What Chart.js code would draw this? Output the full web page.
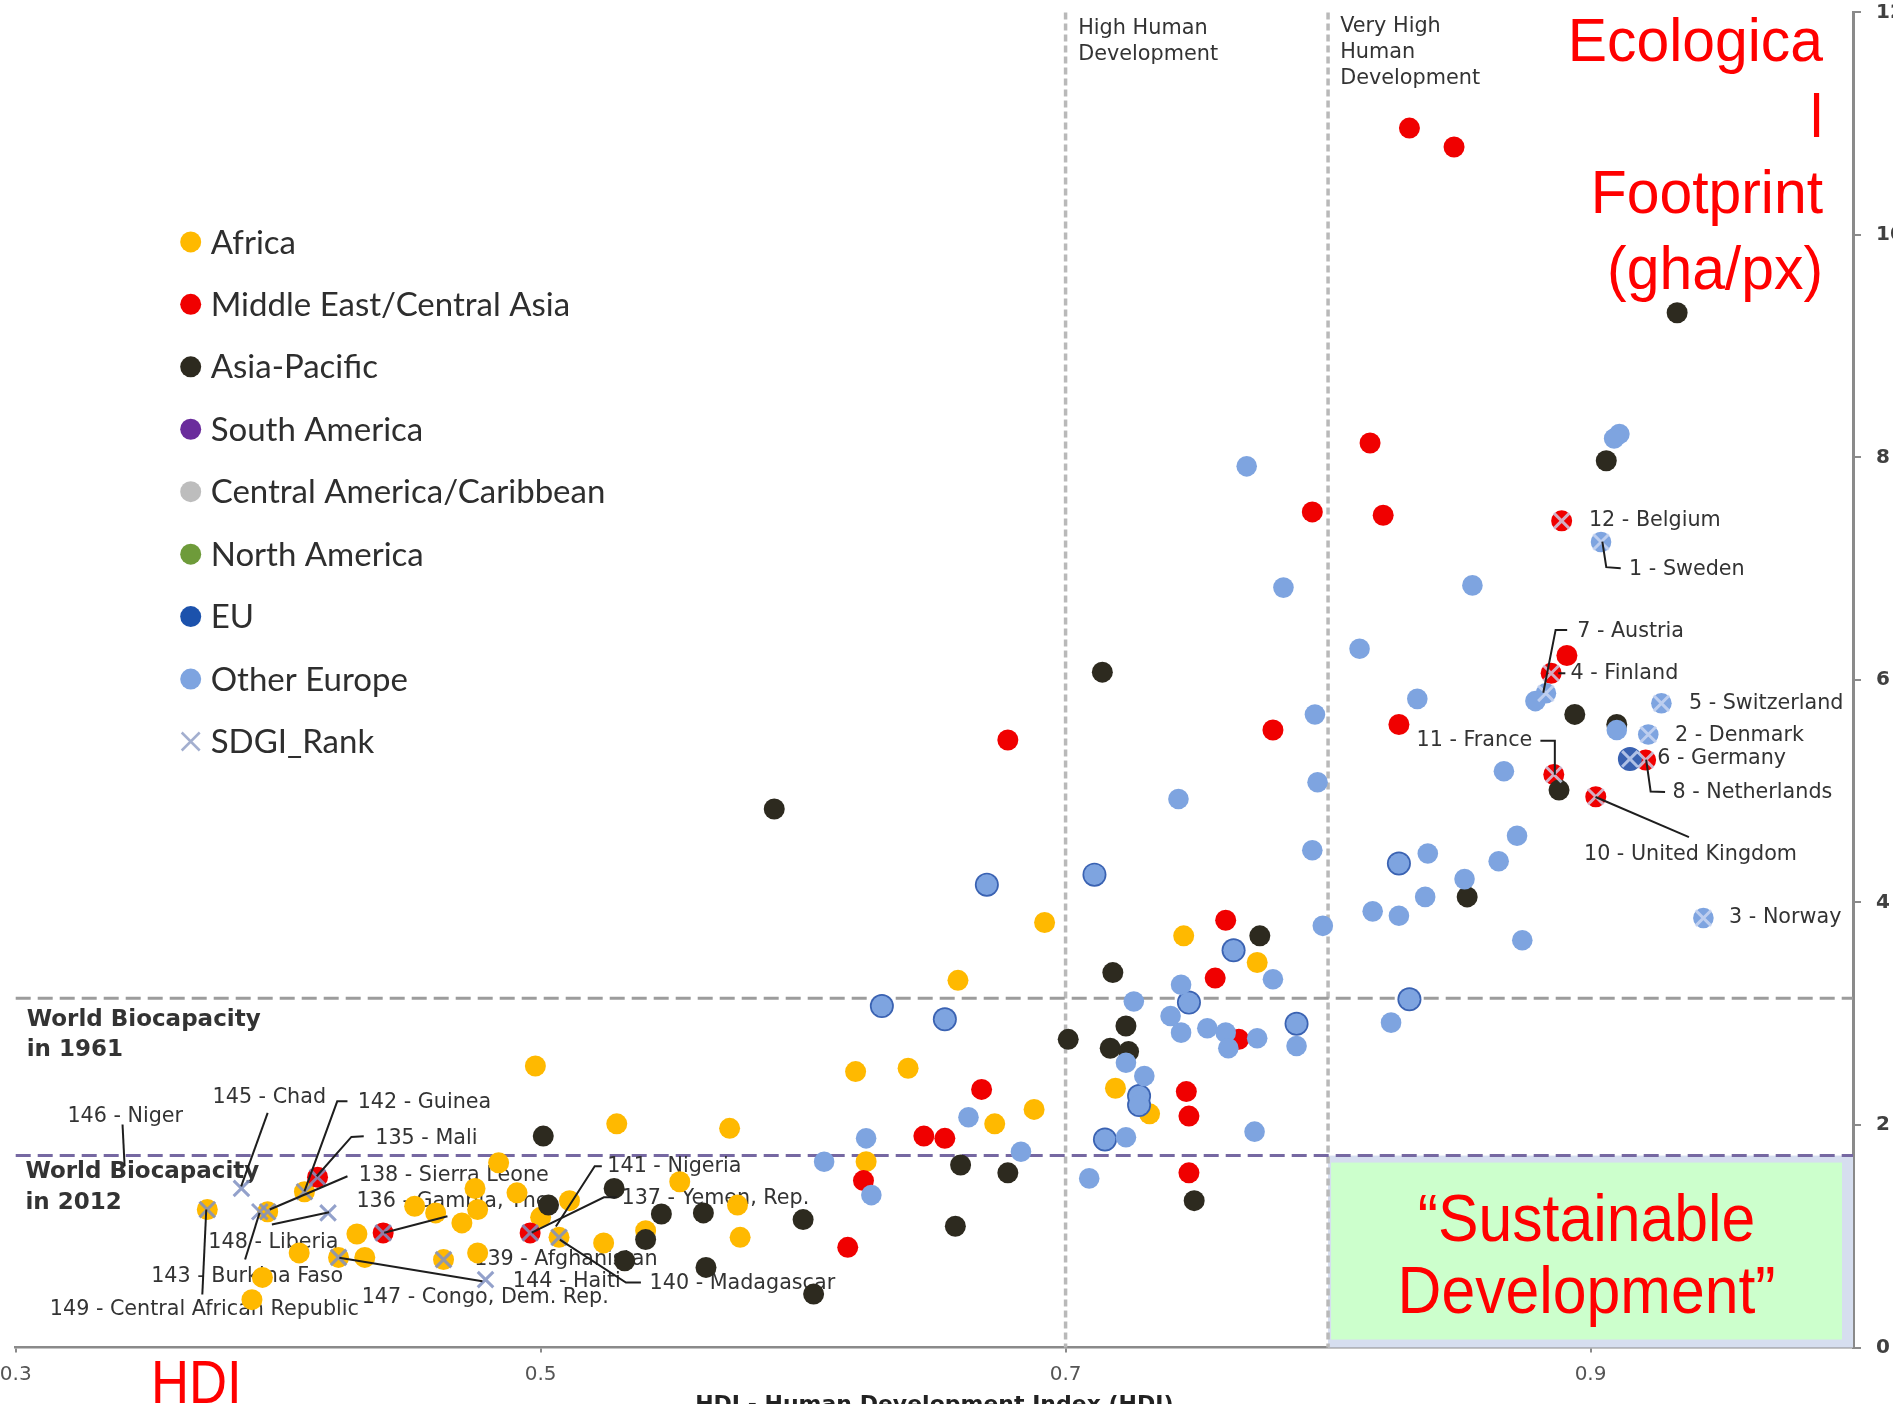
<!DOCTYPE html>
<html><head><meta charset="utf-8">
<script src="https://cdn.jsdelivr.net/npm/chart.js@4.4.1/dist/chart.umd.min.js"></script>
<style>
html,body{margin:0;padding:0;background:#fff;overflow:hidden;width:1893px;height:1404px;}
#wrap{position:absolute;left:0;top:0;width:1904px;height:1420px;}
canvas{display:block;}
</style></head><body>
<div id="wrap"><canvas id="c" width="1904" height="1420"></canvas></div>
<script>
// ---------------- DATA ----------------
const categories = ['Africa','Middle East/Central Asia','Asia-Pacific','South America','Central America/Caribbean','North America','EU','Other Europe','SDGI_Rank'];

const africaHDI = [0.659,0.745,0.773,0.692,0.620,0.640,0.498,0.529,0.572,0.688,0.673,0.719,0.732,0.624,0.484,0.475,0.491,0.452,0.460,0.476,0.470,0.500,0.511,0.430,0.433,0.408,0.394,0.390,0.476,0.524,0.540,0.553,0.575,0.576,0.373,0.396,0.410,0.423,0.463,0.507];
const africaEF  = [3.30,3.70,3.46,3.82,2.48,2.51,2.53,2.01,1.97,2.14,2.01,2.33,2.10,1.67,1.66,1.43,1.39,1.27,1.21,1.24,1.12,1.17,1.32,1.02,0.81,0.85,0.63,0.43,0.85,0.94,1.05,1.49,1.28,0.99,1.24,1.22,1.40,0.81,0.79,0.99];

const meHDI = [0.831,0.848,0.816,0.794,0.821,0.891,0.827,0.779,0.678,0.761,0.757,0.766,0.746,0.747,0.747,0.668,0.646,0.654,0.623,0.617,0.889,0.885,0.921,0.886,0.902,0.415,0.440,0.496];
const meEF  = [10.96,10.79,8.13,7.51,7.48,6.22,5.60,5.55,5.46,3.84,3.32,2.77,2.30,2.08,1.57,2.32,1.90,1.88,1.50,0.90,7.43,6.06,5.28,5.15,4.95,1.53,1.03,1.03];

const apHDI = [0.933,0.906,0.714,0.589,0.894,0.910,0.888,0.853,0.774,0.718,0.723,0.701,0.717,0.724,0.749,0.660,0.678,0.658,0.600,0.604,0.563,0.562,0.546,0.528,0.540,0.532,0.501,0.503];
const apEF  = [9.30,7.97,6.07,4.84,5.69,5.60,5.01,4.05,3.70,3.37,2.89,2.77,2.69,2.66,1.32,1.64,1.57,1.09,1.15,0.48,0.72,1.21,1.20,1.43,0.97,0.78,1.90,1.28];

const saHDI = [], saEF = [];
const caHDI = [], caEF = [];
const naHDI = [], naEF = [];

const euHDI = [0.915,0.670,0.711,0.630,0.654,0.764,0.747,0.788,0.728,0.728,0.715,0.827,0.831];
const euEF  = [5.29,4.16,4.25,3.07,2.95,3.57,3.10,2.91,2.26,2.18,1.87,4.35,3.13];

const oeHDI = [0.911,0.909,0.904,0.855,0.883,0.879,0.834,0.927,0.910,0.922,0.867,0.872,0.838,0.827,0.865,0.852,0.837,0.827,0.817,0.943,0.874,0.831,0.824,0.769,0.783,0.812,0.795,0.796,0.743,0.794,0.670,0.711,0.798,0.764,0.779,0.744,0.726,0.747,0.740,0.744,0.754,0.761,0.773,0.762,0.788,0.788,0.723,0.730,0.728,0.728,0.772,0.715,0.723,0.709,0.630,0.654,0.663,0.624,0.683,0.608,0.626];
const oeEF  = [8.21,8.17,7.24,6.85,5.88,5.81,5.83,5.79,5.55,5.51,5.18,4.60,4.44,4.35,4.37,4.21,4.05,3.88,3.92,3.86,3.66,3.13,2.92,7.92,6.83,6.28,5.69,5.08,4.93,4.47,4.16,4.25,3.79,3.57,3.31,3.26,3.11,3.10,2.98,2.83,2.87,2.83,2.78,2.69,2.91,2.71,2.56,2.44,2.26,2.18,1.94,1.87,1.89,1.52,3.07,2.95,2.07,1.88,1.76,1.67,1.37];

const sdgiNames = ['1 - Sweden','2 - Denmark','3 - Norway','4 - Finland','5 - Switzerland','6 - Germany','7 - Austria','8 - Netherlands','10 - United Kingdom','11 - France','12 - Belgium','135 - Mali','136 - Gambia, The','137 - Yemen, Rep.','138 - Sierra Leone','139 - Afghanistan','140 - Madagascar','142 - Guinea','143 - Burkina Faso','144 - Haiti','145 - Chad','147 - Congo, Dem. Rep.','148 - Liberia','149 - Central African Republic'];
const sdgiHDI = [0.904,0.922,0.943,0.885,0.927,0.915,0.883,0.921,0.902,0.886,0.889,0.415,0.440,0.496,0.396,0.463,0.507,0.410,0.393,0.479,0.386,0.423,0.419,0.373];
const sdgiEF  = [7.24,5.51,3.86,6.06,5.79,5.29,5.88,5.28,4.95,5.15,7.43,1.53,1.03,1.03,1.22,0.79,0.99,1.40,1.22,0.61,1.43,0.81,1.21,1.24];

const xTicks = [0.3,0.5,0.7,0.9];
const xTickLabels = ['0.3','0.5','0.7','0.9'];
const yTicks = [0,2,4,6,8,10,12];
const yTickLabels = ['0','2','4','6','8','10','12'];

const biocap1961 = 3.14;
const biocap2012 = 1.725;
const hdiBands = [0.7, 0.8];

// ---------------- STYLE / LAYOUT ----------------
const colors = ['#FFB900','#F00000','#2D2A1F','#6A2C9C','#BDBDBD','#6E9B3A','#3A62B2','#7EA4E0','#8E9DC6'];

// annotation layout (data coordinates)
const rankLabels = [
 {t:'12 - Belgium', x:0.8994, y:7.430},
 {t:'1 - Sweden', x:0.9147, y:6.990, lead:[[0.9045,7.244],[0.9060,7.014],[0.9115,7.005]]},
 {t:'7 - Austria', x:0.8949, y:6.430, lead:[[0.8911,6.450],[0.8867,6.450],[0.8820,5.885]]},
 {t:'4 - Finland', x:0.8924, y:6.060, lead:[[0.8877,6.060],[0.8904,6.060]]},
 {t:'5 - Switzerland', x:0.9375, y:5.786},
 {t:'2 - Denmark', x:0.9322, y:5.499},
 {t:'6 - Germany', x:0.9254, y:5.289},
 {t:'8 - Netherlands', x:0.9312, y:4.989, lead:[[0.9212,5.283],[0.9229,4.998],[0.9284,4.993]]},
 {t:'11 - France', x:0.8778, y:5.454, align:'right', lead:[[0.8809,5.454],[0.8864,5.454],[0.8864,5.148]]},
 {t:'10 - United Kingdom', x:0.8975, y:4.429, lead:[[0.9019,4.948],[0.9375,4.588]]},
 {t:'3 - Norway', x:0.9528, y:3.861},
 {t:'146 - Niger', x:0.3197, y:2.078, lead:[[0.3407,2.004],[0.3415,1.629]]},
 {t:'145 - Chad', x:0.3750, y:2.249, lead:[[0.3960,2.109],[0.3859,1.449]]},
 {t:'142 - Guinea', x:0.4303, y:2.199, lead:[[0.4264,2.213],[0.4225,2.213],[0.4100,1.404]]},
 {t:'135 - Mali', x:0.4370, y:1.878, lead:[[0.4326,1.898],[0.4279,1.893],[0.4147,1.539]]},
 {t:'138 - Sierra Leone', x:0.4307, y:1.545, lead:[[0.4264,1.539],[0.3968,1.240]]},
 {t:'136 - Gambia, The', x:0.4298, y:1.314, lead:[[0.4645,1.180],[0.4404,1.031]]},
 {t:'148 - Liberia', x:0.3734, y:0.941, lead:[[0.3976,1.105],[0.4194,1.216]]},
 {t:'143 - Burkina Faso', x:0.3516, y:0.635, lead:[[0.3874,0.791],[0.3929,1.210]]},
 {t:'149 - Central African Republic', x:0.3130, y:0.341, lead:[[0.3711,0.476],[0.3726,1.240]]},
 {t:'147 - Congo, Dem. Rep.', x:0.4318, y:0.447, lead:[[0.4233,0.806],[0.4778,0.596]]},
 {t:'144 - Haiti', x:0.4894, y:0.596},
 {t:'139 - Afghanistan', x:0.4747, y:0.791},
 {t:'141 - Nigeria', x:0.5254, y:1.629, lead:[[0.5233,1.629],[0.5206,1.629],[0.5058,1.087]]},
 {t:'137 - Yemen, Rep.', x:0.5308, y:1.339, lead:[[0.5290,1.350],[0.5241,1.350],[0.4966,1.033]]},
 {t:'140 - Madagascar', x:0.5415, y:0.575, lead:[[0.5382,0.584],[0.5325,0.584],[0.5073,0.970]]}
];
const blockTexts = [
 {lines:['High Human','Development'], x:0.7048, y:11.857, lh:26.7, font:'20.8px "DejaVu Sans"'},
 {lines:['Very High','Human','Development'], x:0.8046, y:11.872, lh:25.8, font:'20.8px "DejaVu Sans"'},
 {lines:['World Biocapacity','in 1961'], x:0.3042, y:2.947, lh:30.5, font:'bold 23px "DejaVu Sans"'},
 {lines:['World Biocapacity','in 2012'], x:0.3037, y:1.575, lh:31, font:'bold 23px "DejaVu Sans"'}
];

function pts(xs, ys){ return xs.map((v,i)=>({x:v, y:ys[i]})); }

const series = [
 {label:categories[0], data:pts(africaHDI, africaEF), r:10.5},
 {label:categories[1], data:pts(meHDI, meEF), r:10.5},
 {label:categories[2], data:pts(apHDI, apEF), r:10.5},
 {label:categories[3], data:pts(saHDI, saEF), r:10.5},
 {label:categories[4], data:pts(caHDI, caEF), r:10.5},
 {label:categories[5], data:pts(naHDI, naEF), r:10.5},
 {label:categories[6], data:pts(euHDI, euEF), r:12},
 {label:categories[7], data:pts(oeHDI, oeEF), r:10.3}
];
const n = series.length + 1;
const datasets = series.map((s,i)=>({
  label:s.label, data:s.data, order:n-i,
  pointRadius:s.r, pointHoverRadius:s.r, pointBorderWidth:0,
  backgroundColor:colors[i], borderColor:colors[i], pointStyle:'circle'
}));
datasets.push({
  label:categories[8], data:pts(sdgiHDI, sdgiEF), order:0,
  pointStyle:'crossRot', pointRadius:11, pointHoverRadius:11, pointBorderWidth:3,
  backgroundColor:'rgba(0,0,0,0)',
  pointBorderColor:(c)=> (c.raw && c.raw.y > 3) ? 'rgba(205,216,242,0.8)' : 'rgba(128,144,194,0.85)'
});

// target plot-area geometry (pixels)
const AREA = {left:15.7, top:12.4, right:1853, bottom:1347.5};
const CW = 1904, CH = 1420;

const deco = {
  id:'deco',
  beforeDatasetsDraw(chart){
    const {ctx, chartArea:a, scales:{x, y}} = chart;
    ctx.save();
    const bx0 = x.getPixelForValue(hdiBands[1]), bx1 = x.getPixelForValue(1.0);
    const by0 = y.getPixelForValue(biocap2012), by1 = y.getPixelForValue(0);
    ctx.fillStyle = '#D6DEEF';
    ctx.fillRect(bx0, by0, bx1-bx0, by1-by0);
    ctx.fillStyle = '#CCFFCC';
    ctx.fillRect(bx0+3, by0+7, bx1-bx0-14, by1-by0-15);
    ctx.strokeStyle = '#B9B9B9'; ctx.lineWidth = 3.5; ctx.setLineDash([7,4]);
    hdiBands.forEach(v=>{ const px = x.getPixelForValue(v); ctx.beginPath(); ctx.moveTo(px, a.top); ctx.lineTo(px, a.bottom); ctx.stroke(); });
    ctx.lineWidth = 3;
    ctx.setLineDash([15,7]);
    ctx.strokeStyle = '#9C9C9C';
    let py = y.getPixelForValue(biocap1961);
    ctx.beginPath(); ctx.moveTo(a.left, py); ctx.lineTo(a.right, py); ctx.stroke();
    ctx.strokeStyle = '#7668A2';
    py = y.getPixelForValue(biocap2012);
    ctx.beginPath(); ctx.moveTo(a.left, py); ctx.lineTo(a.right, py); ctx.stroke();
    ctx.setLineDash([]);
    ctx.fillStyle = '#333'; ctx.textBaseline = 'middle'; ctx.textAlign = 'left';
    blockTexts.forEach(b=>{
      ctx.font = b.font;
      const px = x.getPixelForValue(b.x), py0 = y.getPixelForValue(b.y);
      b.lines.forEach((l,i)=> ctx.fillText(l, px, py0 + i*b.lh));
    });
    ctx.font = '20.7px "DejaVu Sans"'; ctx.fillStyle = '#333';
    rankLabels.forEach(r=>{
      ctx.textAlign = r.align || 'left';
      ctx.fillText(r.t, x.getPixelForValue(r.x), y.getPixelForValue(r.y));
    });
    ctx.restore();
  },
  afterDatasetsDraw(chart){
    const {ctx, chartArea:a, scales:{x, y}} = chart;
    ctx.save();
    ctx.strokeStyle = '#1E1E1E'; ctx.lineWidth = 2;
    rankLabels.forEach(r=>{
      if(!r.lead) return;
      ctx.beginPath();
      r.lead.forEach((p,i)=>{ const px=x.getPixelForValue(p[0]), py=y.getPixelForValue(p[1]); if(i) ctx.lineTo(px,py); else ctx.moveTo(px,py); });
      ctx.stroke();
    });
    // legend
    ctx.textBaseline = 'middle'; ctx.textAlign = 'left';
    ctx.font = '33px Lato';
    categories.forEach((c,i)=>{
      const mx = a.left + 175, my = a.top + 229.5 + i*62.45;
      if(i === categories.length-1){
        ctx.strokeStyle = '#A3AFCF'; ctx.lineWidth = 2.5;
        ctx.beginPath(); ctx.moveTo(mx-9,my-9); ctx.lineTo(mx+9,my+9); ctx.moveTo(mx+9,my-9); ctx.lineTo(mx-9,my+9); ctx.stroke();
      } else {
        ctx.fillStyle = (i === 6) ? '#1C52AC' : colors[i];
        ctx.beginPath(); ctx.arc(mx, my, 10.5, 0, Math.PI*2); ctx.fill();
      }
      ctx.fillStyle = '#2E2E2E';
      ctx.fillText(c, a.left + 195, my + 1);
    });
    // red titles
    ctx.fillStyle = '#FF0000';
    ctx.textAlign = 'right'; ctx.textBaseline = 'alphabetic';
    const efLines = ['Ecologica','l','Footprint','(gha/px)'];
    const rx = a.right - 30;
    efLines.forEach((l,i)=>{
      ctx.save(); ctx.translate(rx, 60.5 + i*76); ctx.scale(0.965,1);
      ctx.font = '61px "Liberation Sans"'; ctx.fillText(l, 0, 0); ctx.restore();
    });
    const cx = (x.getPixelForValue(hdiBands[1]) + x.getPixelForValue(1.0))/2 - 4;
    ctx.textAlign = 'center';
    ['\u201CSustainable','Development\u201D'].forEach((l,i)=>{
      ctx.save(); ctx.translate(cx, 1241 + i*72); ctx.scale(0.92,1);
      ctx.font = '66px "Liberation Sans"'; ctx.fillText(l, 0, 0); ctx.restore();
    });
    ctx.textAlign = 'left';
    ctx.save(); ctx.translate(151, 1403); ctx.scale(0.85,1);
    ctx.font = '62px "Liberation Sans"'; ctx.fillText('HDI', 0, 0); ctx.restore();
    ctx.restore();
  }
};

new Chart(document.getElementById('c'), {
  type:'scatter',
  data:{datasets},
  options:{
    responsive:false, animation:false, devicePixelRatio:1,
    layout:{padding:0, autoPadding:false},
    plugins:{legend:{display:false}, tooltip:{enabled:false}},
    scales:{
      x:{
        type:'linear', min:0.3, max:1.0,
        afterBuildTicks:(s)=>{ s.ticks = xTicks.map(v=>({value:v})); },
        afterFit:(s)=>{ s.paddingLeft = AREA.left; s.paddingRight = 0; s.height = CH - AREA.bottom; },
        ticks:{ callback:(v,i)=> xTickLabels[i], font:{family:'DejaVu Sans', size:20}, color:'#555', padding:10, maxRotation:0, autoSkip:false },
        grid:{ drawOnChartArea:false, drawTicks:true, tickLength:5, color:'#8A8A8A', lineWidth:2 },
        border:{ display:true, color:'#8A8A8A', width:2.5 },
        title:{ display:true, text:'HDI - Human Development Index (HDI)', font:{family:'DejaVu Sans', size:22, weight:'bold'}, color:'#222', padding:{top:3,bottom:2} }
      },
      y:{
        type:'linear', position:'right', min:0, max:12,
        afterBuildTicks:(s)=>{ s.ticks = yTicks.map(v=>({value:v})); },
        afterFit:(s)=>{ s.paddingTop = AREA.top; s.paddingBottom = 0; s.width = CW - AREA.right; },
        ticks:{ callback:(v,i)=> yTickLabels[i], font:{family:'DejaVu Sans', size:20, weight:'bold'}, color:'#404040', padding:15 },
        grid:{ drawOnChartArea:false, drawTicks:true, tickLength:8, color:'#8A8A8A', lineWidth:2 },
        border:{ display:true, color:'#8A8A8A', width:3 }
      }
    }
  },
  plugins:[deco]
});
</script>
</body></html>
